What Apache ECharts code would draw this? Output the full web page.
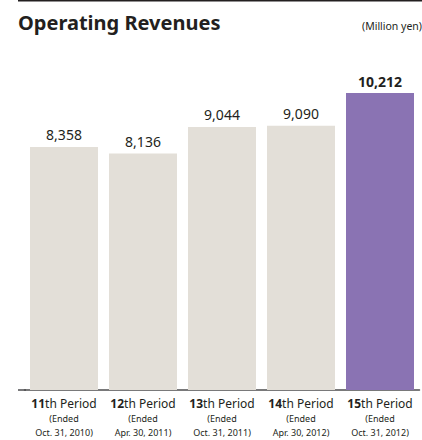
<!DOCTYPE html>
<html><head><meta charset="utf-8">
<script src="https://cdn.jsdelivr.net/npm/echarts@6/dist/echarts.min.js"></script>
<style>html,body{margin:0;padding:0;background:#fff}#c{width:422px;height:440px}</style>
</head><body><div id="c"></div>
<script>
var periodNums = ['11', '12', '13', '14', '15'];
var periodEnds = ['Oct. 31, 2010', 'Apr. 30, 2011', 'Oct. 31, 2011', 'Apr. 30, 2012', 'Oct. 31, 2012'];
var revenues = [8358, 8136, 9044, 9090, 10212];
var highlightIndex = 4;
var unitText = '(Million yen)';

var FONT = '"Noto Sans", "Open Sans", sans-serif';
var TXT = '#231f20';
var chart = echarts.init(document.getElementById('c'), null, {renderer: 'svg'});
var cats = periodNums.map(function (n, i) { return n + '|' + periodEnds[i]; });

chart.setOption({
  animation: false,
  title: [
    {text: 'Operating Revenues', left: 18, top: 12, padding: 0,
     textStyle: {fontFamily: FONT, fontWeight: 'bold', fontSize: 20, color: TXT}},
    {text: unitText, right: 0, top: 20, padding: 0,
     textStyle: {fontFamily: FONT, fontWeight: 'normal', fontSize: 10.5, color: TXT}}
  ],
  graphic: [
    {type: 'rect', shape: {x: 18, y: 0, width: 404, height: 1.5}, style: {fill: TXT}},
    {type: 'rect', shape: {x: 18, y: 389.25, width: 8, height: 1.5}, style: {fill: '#4d4d4f'}, z: 10}
  ],
  grid: {left: 24.5, right: 2.5, top: 41, bottom: 50},
  xAxis: {
    type: 'category', data: cats,
    axisLine: {show: true, lineStyle: {color: '#4d4d4f', width: 1.5}}, axisTick: {show: false},
    axisLabel: {
      margin: 5, interval: 0,
      formatter: function (v) {
        var p = v.split('|');
        return '{b|' + p[0] + '}{n|th Period}\n{s|(Ended}\n{s|' + p[1] + ')}';
      },
      rich: {
        b: {fontFamily: FONT, fontWeight: 'bold', fontSize: 12, color: TXT, lineHeight: 16},
        n: {fontFamily: FONT, fontSize: 12, color: TXT, lineHeight: 16},
        s: {fontFamily: FONT, fontSize: 9, color: TXT, lineHeight: 14.5}
      }
    }
  },
  yAxis: {type: 'value', min: 0, max: 12000, show: false},
  series: [{
    type: 'bar', barWidth: 68,
    data: revenues.map(function (v, i) {
      return {value: v, itemStyle: {color: i === highlightIndex ? '#8a73b3' : '#e3dfd8'}};
    }),
    label: {
      show: true, position: 'top', distance: 5,
      formatter: function (p) {
        var s = p.value.toLocaleString('en-US');
        return p.dataIndex === highlightIndex ? '{h|' + s + '}' : '{r|' + s + '}';
      },
      rich: {
        r: {fontFamily: FONT, fontSize: 14, color: TXT},
        h: {fontFamily: FONT, fontSize: 14, fontWeight: 'bold', color: TXT}
      }
    }
  }]
});
</script></body></html>
